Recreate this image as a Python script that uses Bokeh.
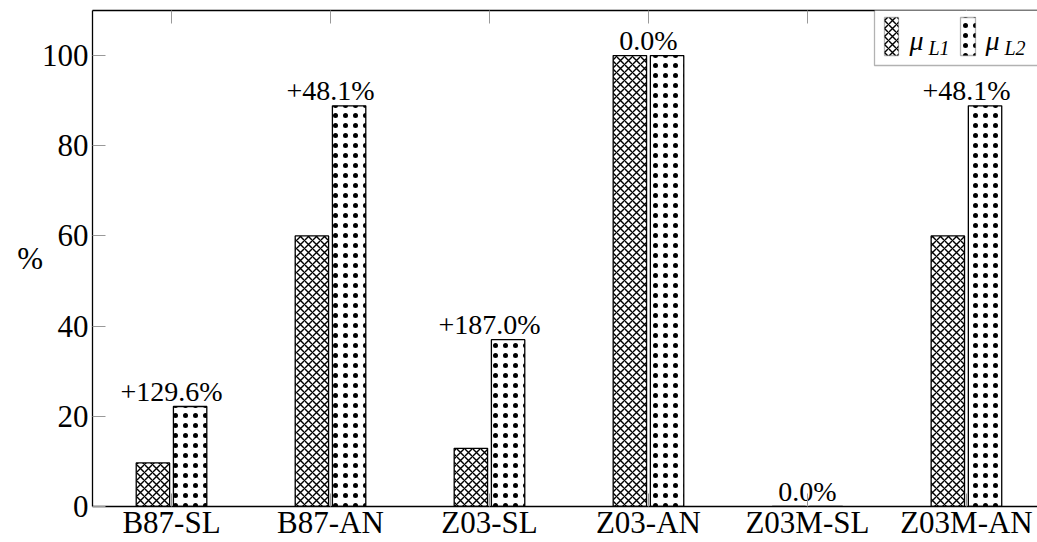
import numpy as np
from bokeh.plotting import figure
from bokeh.models import (ColumnDataSource, Range1d, FixedTicker, LinearAxis,
                          BoxAnnotation, Label)
from bokeh.core.properties import value
from bokeh.embed import file_html
from bokeh.resources import INLINE

# ---- data ----
categories = ["B87-SL", "B87-AN", "Z03-SL", "Z03-AN", "Z03M-SL", "Z03M-AN"]
mu_L1 = [9.66, 60.0, 12.9, 100.0, 0.0, 60.0]
mu_L2 = [22.18, 88.86, 37.0, 100.0, 0.0, 88.86]
change_labels = ["+129.6%", "+48.1%", "+187.0%", "0.0%", "0.0%", "+48.1%"]
y_ticks = [0, 20, 40, 60, 80, 100]

FONT = "serif"
FS_TICK = "31px"
FS_ANN = "28px"

idx = np.arange(len(categories))
off = 0.117
bw = 0.21

src = ColumnDataSource(dict(
    x=idx, x1=idx - off, x2=idx + off,
    l1=mu_L1, l2=mu_L2,
    ymax=np.maximum(mu_L1, mu_L2), lab=change_labels,
))

p = figure(width=1037, height=542,
           x_range=Range1d(-0.497, 5.447), y_range=Range1d(0, 110),
           output_backend="svg", toolbar_location=None,
           min_border_left=92, min_border_right=0, min_border_top=10,
           min_border_bottom=0)
p.outline_line_color = None
p.grid.visible = False
p.background_fill_color = "white"
p.border_fill_color = "white"

p.vbar(x="x1", top="l1", width=bw, source=src, fill_color="white",
       line_color="black", line_width=1.3, hatch_pattern="diagonal_cross",
       hatch_scale=8, hatch_weight=1.4, hatch_color="black")
p.vbar(x="x2", top="l2", width=bw, source=src, fill_color="white",
       line_color="black", line_width=1.3, hatch_pattern="dot",
       hatch_scale=10, hatch_weight=0.3, hatch_color="black")

p.text(x="x", y="ymax", text="lab", source=src, text_align="center",
       text_baseline="alphabetic", y_offset=-15, text_color="black",
       text_font=value(FONT), text_font_size=FS_ANN)

# x axis (below)
xa = p.xaxis[0]
xa.ticker = FixedTicker(ticks=list(idx))
xa.major_label_overrides = {int(i): c for i, c in zip(idx, categories)}
xa.minor_tick_line_color = None
xa.major_tick_in = 13
xa.major_tick_out = 0
xa.major_tick_line_color = "#999999"
xa.axis_line_color = "black"
xa.axis_line_width = 1.3
xa.major_label_text_font = FONT
xa.major_label_text_font_size = FS_TICK
xa.major_label_text_color = "black"
xa.major_label_standoff = -2

# y axis (left)
ya = p.yaxis[0]
ya.ticker = FixedTicker(ticks=y_ticks)
ya.minor_tick_line_color = None
ya.major_tick_in = 13
ya.major_tick_out = 0
ya.major_tick_line_color = "#999999"
ya.axis_line_color = "black"
ya.axis_line_width = 1.3
ya.major_label_text_font = FONT
ya.major_label_text_font_size = FS_TICK
ya.major_label_text_color = "black"
ya.major_label_standoff = 4
ya.axis_label = "%"
ya.axis_label_orientation = "horizontal"
ya.axis_label_text_font = FONT
ya.axis_label_text_font_size = FS_TICK
ya.axis_label_text_font_style = "normal"
ya.axis_label_text_color = "black"
ya.axis_label_standoff = -4

# top axis: line + ticks only
ta = LinearAxis(ticker=FixedTicker(ticks=list(idx)),
                major_label_overrides={int(i): "" for i in idx},
                major_label_text_font_size="0px",
                major_label_standoff=0, major_tick_in=13, major_tick_out=0,
                major_tick_line_color="#999999", minor_tick_line_color=None,
                axis_line_color="black", axis_line_width=1.3)
p.add_layout(ta, "above")

# legend (custom, frame-relative screen units)
SU = dict(left_units="screen", right_units="screen",
          bottom_units="screen", top_units="screen")
p.add_layout(BoxAnnotation(left=782, right=960, bottom=441, top=497, **SU,
                           fill_color="white", fill_alpha=1.0,
                           line_color="black", line_width=1.3))
for l, r, pat, sc, w in [(792, 806, "diagonal_cross", 8, 1.4),
                         (868, 883, "dot", 10, 0.3)]:
    p.add_layout(BoxAnnotation(left=l, right=r, bottom=451, top=489, **SU,
                               fill_color="white", fill_alpha=1.0,
                               line_color=None, hatch_pattern=pat,
                               hatch_scale=sc, hatch_weight=w,
                               hatch_color="black"))
    p.add_layout(BoxAnnotation(left=l, right=r, bottom=451, top=489, **SU,
                               fill_alpha=0, line_color="black",
                               line_width=1.3))
for xm, xs, sub in [(817, 836, "L1"), (893, 912, "L2")]:
    p.add_layout(Label(x=xm, y=466, x_units="screen", y_units="screen",
                       text="μ", text_font=FONT, text_font_size=FS_ANN,
                       text_font_style="italic", text_color="black",
                       text_baseline="alphabetic"))
    p.add_layout(Label(x=xs, y=459, x_units="screen", y_units="screen",
                       text=sub, text_font=FONT, text_font_size="20px",
                       text_font_style="italic", text_color="black",
                       text_baseline="alphabetic"))

open("out.html", "w").write(file_html(p, INLINE))
